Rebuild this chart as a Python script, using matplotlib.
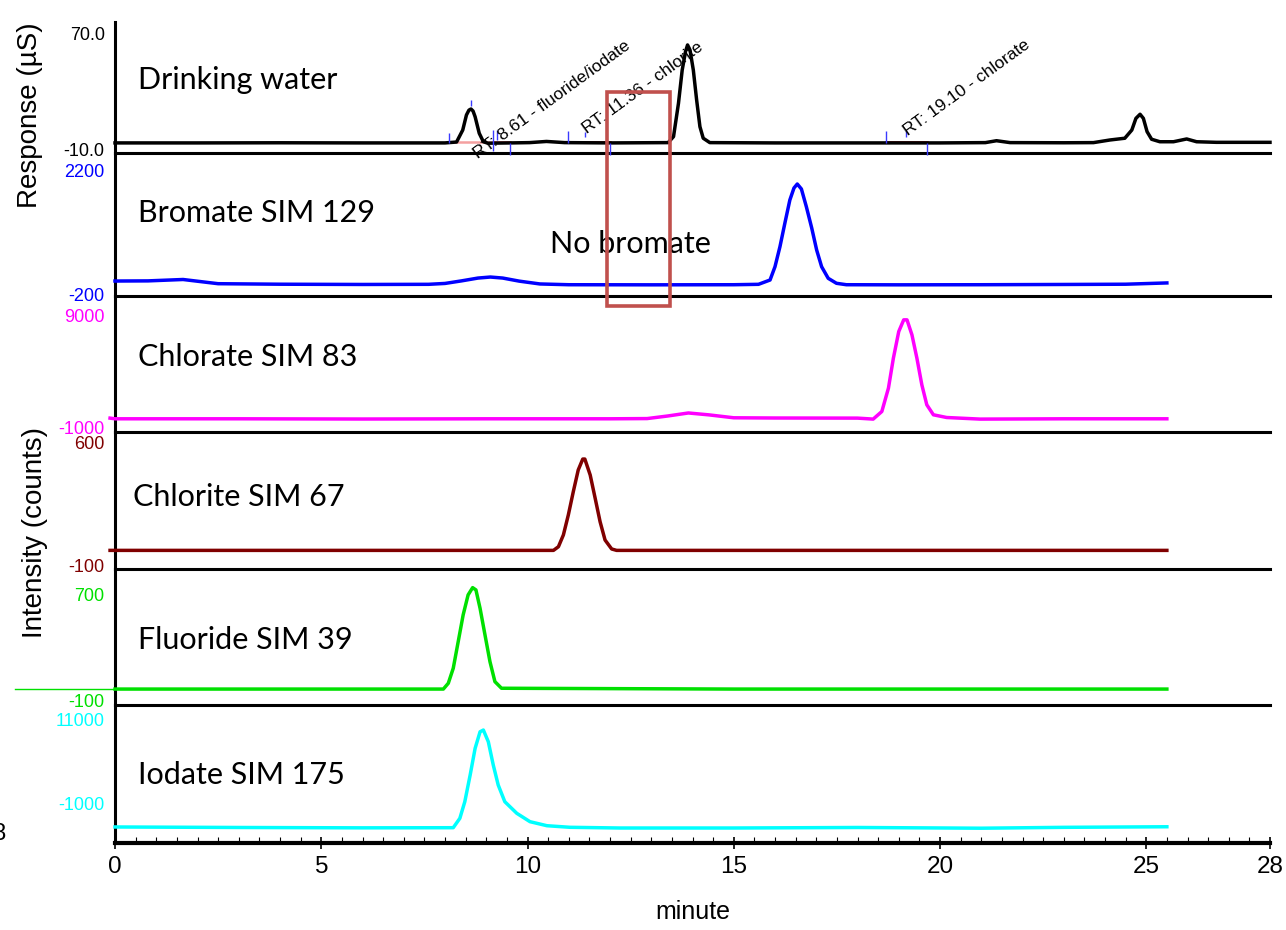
import numpy as np
import matplotlib.pyplot as plt
from matplotlib.patches import Rectangle
from matplotlib.transforms import offset_copy

# retention time axis (minutes) and panel traces
water_t = [0, 2, 4, 6, 8.0, 8.28, 8.43, 8.52, 8.58, 8.63, 8.68, 8.73, 8.83, 8.93, 9.04, 9.6, 10.05, 10.46, 10.9,
           12, 13.41, 13.54, 13.66, 13.75, 13.83, 13.88, 13.94, 14.02, 14.1, 14.18, 14.26, 14.42,
           16, 18, 20, 21.1, 21.37, 21.7, 23, 23.72, 24.12, 24.48, 24.65, 24.75, 24.85, 24.93,
           25.02, 25.13, 25.33, 25.66, 25.98, 26.22, 26.7, 28]
water_y = [-3.8, -3.8, -3.7, -3.8, -3.8, -3.2, 5.0, 15.3, 18.6, 19.4, 18.0, 14.1, 2.8, -3.0, -4.0, -3.8, -3.6, -2.8, -3.6,
           -3.8, -3.6, 0.5, 23.3, 46.0, 58.6, 63.2, 59.7, 46.0, 25.6, 7.3, -0.6, -3.6,
           -3.8, -3.8, -3.8, -3.6, -2.3, -3.6, -3.7, -3.6, -1.8, -0.6, 5.0, 13.0, 15.8, 13.0,
           3.9, -1.3, -3.0, -3.0, -1.1, -3.0, -3.4, -3.4]

bromate_t = [0, 0.8, 1.65, 2.5, 4, 6, 7.6, 8.0, 8.4, 8.8, 9.1, 9.4, 9.8, 10.3, 11, 13, 15, 15.6,
             15.88, 16.0, 16.12, 16.24, 16.36, 16.46, 16.54, 16.64, 16.76, 16.89, 17.01, 17.13,
             17.29, 17.49, 17.73, 19, 21, 23, 24.5, 25.5]
bromate_y = [92, 95, 122, 40, 30, 25, 28, 45, 95, 150, 170, 150, 90, 35, 20, 18, 20, 28,
             112, 372, 762, 1224, 1673, 1907, 1985, 1888, 1542, 1127, 697, 372,
             145, 48, 20, 18, 20, 25, 30, 55]

chlorate_t = [-0.12, 0, 3, 6, 9, 12, 12.9, 13.4, 13.9, 14.4, 15.0, 16, 18, 18.38, 18.59, 18.75,
              18.87, 19.0, 19.12, 19.2, 19.32, 19.44, 19.56, 19.68, 19.84, 20.16, 20.97, 23, 25.5]
chlorate_y = [60, 0, 0, -20, 0, 0, 20, 250, 520, 350, 90, 70, 60, -27, 652, 2736,
              5415, 7790, 8835, 8835, 7495, 5415, 3030, 1250, 357, 116, -27, 0, 0]

chlorite_t = [-0.12, 0, 5, 10, 10.63, 10.75, 10.87, 10.99, 11.11, 11.23, 11.34, 11.39, 11.52,
              11.64, 11.76, 11.88, 12.04, 12.16, 18, 25.5]
chlorite_y = [0, 0, 0, 0, 0, 21, 88, 202, 334, 458, 520, 520, 429,
              297, 163, 59, 8, 0, 0, 0]

fluoride_t = [0, 4, 7.96, 8.08, 8.2, 8.32, 8.44, 8.56, 8.67, 8.75, 8.85, 8.97, 9.09, 9.21, 9.37, 15, 25.5]
fluoride_y = [18, 18, 18, 61, 172, 369, 567, 715, 769, 752, 616, 418, 221, 73, 24, 18, 18]

iodate_t = [0, 3, 6, 8.2, 8.36, 8.48, 8.61, 8.73, 8.85, 8.93, 9.05, 9.17, 9.29, 9.45, 9.74, 10.06,
            10.47, 11.03, 12.24, 15, 18, 21, 23, 25.5]
iodate_y = [-4030, -4100, -4150, -4130, -2835, -545, 3137, 6815, 9100, 9340, 7727, 4515, 1757, -545,
            -2145, -3300, -3855, -4075, -4172, -4172, -4100, -4200, -4080, -4000]

panel_names = ["Drinking water", "Bromate SIM 129", "Chlorate SIM 83",
               "Chlorite SIM 67", "Fluoride SIM 39", "Iodate SIM 175"]
panel_colors = ["black", "#0000ff", "#ff00ff", "#800000", "#00e000", "#00ffff"]
range_labels = [("70.0", "-10.0"), ("2200", "-200"), ("9000", "-1000"),
                ("600", "-100"), ("700", "-100"), ("11000", "-1000")]
range_values = [(70, -10), (2200, -200), (9000, -1000), (600, -100), (700, -100), (11000, -1000)]
panel_ylims = [(-10.7, 78.9), (-200, 2590), (-1179, 10964), (-106, 674), (-100, 907), (-6240, 12793)]
# small vertical nudges (points) for range labels that sit close together
label_nudge = [(0, 0), (0, 0), (0, 0), (0, 0), (0, 1.5), (-2.5, 0)]

# integration marks on the drinking water trace
int_segments = [(8.1, 9.2, "#f4a0a0"), (9.2, 9.58, "#d04040"), (10.98, 12.0, "#b00000"), (18.69, 19.68, "#c00000")]
int_level = -3.5
mark_t = [8.1, 8.63, 9.16, 9.26, 9.58, 10.98, 11.39, 12.0, 18.69, 19.18, 19.68]
mark_lo = [-3.8, 21.5, -9.3, -1.8, -12, -3.8, 0.3, -12, -3.8, 0.3, -12]
mark_hi = [3.0, 25.6, 5.0, 5.0, -3.8, 4.4, 3.7, -3.8, 4.4, 5.0, -3.8]
rt_labels = ["RT: 8.61 - fluoride/iodate", "RT: 11.36 - chlorite", "RT: 19.10 - chlorate"]
rt_pos = [(8.8, -14.5), (11.44, 2.5), (19.22, 1.2)]

traces = [(water_t, water_y), (bromate_t, bromate_y), (chlorate_t, chlorate_y),
          (chlorite_t, chlorite_y), (fluoride_t, fluoride_y), (iodate_t, iodate_y)]

W, H = 1286, 930
edges = [22, 153, 296, 432, 569, 705, 843]
left, right = 115, 1270
name_y = [80, 213, 357, 497, 640, 775]
name_x = [138, 138, 138, 133, 138, 138]

fig = plt.figure(figsize=(W / 100, H / 100), dpi=100)
axes = []
for i in range(6):
    top, bot = edges[i], edges[i + 1]
    ax = fig.add_axes([left / W, 1 - bot / H, (right - left) / W, (bot - top) / H])
    ax.set_facecolor("none")
    ax.set_xlim(0, 28)
    ax.set_ylim(*panel_ylims[i])
    for s in ["top", "right"]:
        ax.spines[s].set_visible(False)
    ax.spines["left"].set_linewidth(2.2)
    ax.spines["bottom"].set_linewidth(2.2)
    ax.set_yticks([])
    t, y = traces[i]
    ax.plot(t, y, color=panel_colors[i], lw=2.5, solid_joinstyle="round", clip_on=False, zorder=3)
    # range labels
    hi_lab, lo_lab = range_labels[i]
    hi_v, lo_v = range_values[i]
    hi_dy, lo_dy = label_nudge[i]
    ax.text(-0.25, hi_v, hi_lab, color=panel_colors[i], ha="right", va="center",
            fontsize=13, family="Liberation Sans", clip_on=False,
            transform=offset_copy(ax.transData, fig=fig, y=hi_dy, units="points"))
    ax.text(-0.25, lo_v, lo_lab, color=panel_colors[i], ha="right", va="center",
            fontsize=13, family="Liberation Sans", clip_on=False,
            transform=offset_copy(ax.transData, fig=fig, y=lo_dy, units="points"))
    ax.text((name_x[i] - left) / (right - left), (bot - name_y[i]) / (bot - top), panel_names[i],
            transform=ax.transAxes, ha="left", va="center", fontsize=22, family="Lato")
    if i < 5:
        ax.set_xticks([])
    axes.append(ax)

ax1 = axes[0]
ax1.set_zorder(10)
for t0, t1, c in int_segments:
    ax1.plot([t0, t1], [int_level, int_level], color=c, lw=1.8, zorder=2)
ax1.vlines(mark_t, mark_lo, mark_hi, color="#3a3aff", lw=1.0, clip_on=False, zorder=4)
for lab, (tx, ty) in zip(rt_labels, rt_pos):
    ax1.text(tx, ty, lab, rotation=36, rotation_mode="anchor", ha="left", va="baseline",
             fontsize=12.5, family="Liberation Sans", clip_on=False, zorder=5)
ax1.add_patch(Rectangle((11.93, -115.3), 1.52, 146.3, fill=False, edgecolor="#c0504d",
                        lw=2.6, clip_on=False, zorder=6))

axes[1].text(12.5, 815, "No bromate", ha="center", va="center", fontsize=22, family="Lato")

# thin baseline continuation of the fluoride trace left of the axis
axes[4].plot([-2.42, 0], [18, 18], color="#00e000", lw=1.0, clip_on=False)

axb = axes[5]
axb.spines["bottom"].set_linewidth(3)
axb.set_xticks([0, 5, 10, 15, 20, 25, 28])
axb.set_xticks(np.arange(0, 28.01, 0.5), minor=True)
axb.tick_params(axis="x", which="major", direction="inout", length=9, width=1.2, labelsize=17.5, pad=5)
axb.tick_params(axis="x", which="minor", direction="in", length=4, width=0.8)
for lbl in axb.get_xticklabels():
    lbl.set_family("Liberation Sans")
axb.set_xlabel("minute", fontsize=18, family="Liberation Sans", labelpad=16)

fig.text(30 / W, 1 - 115 / H, "Response (µS)", rotation=90, ha="center", va="center",
         fontsize=20, family="Liberation Sans")
fig.text(35 / W, 1 - 532 / H, "Intensity (counts)", rotation=90, ha="center", va="center",
         fontsize=20, family="Liberation Sans")
fig.text(7 / W, 1 - 834 / H, "28", ha="right", va="center", fontsize=17, family="Liberation Sans")

fig.savefig("out.png", dpi=100)
